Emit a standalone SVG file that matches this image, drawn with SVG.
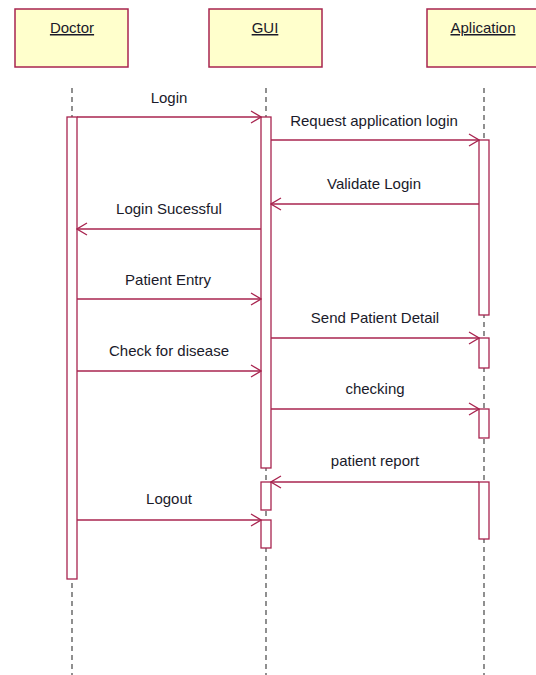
<svg xmlns="http://www.w3.org/2000/svg" width="536" height="675" viewBox="0 0 536 675">
  <style>
    .obj { fill: #ffffcc; stroke: #a8244f; stroke-width: 1.5; }
    .act { fill: #ffffff; stroke: #a8244f; stroke-width: 1.3; }
    .life { stroke: #555555; stroke-width: 1.3; stroke-dasharray: 5 4; fill: none; }
    .msg { stroke: #a8244f; stroke-width: 1.5; fill: none; marker-end: url(#open); }
    .name { font-family: "Liberation Sans", Arial, sans-serif; font-size: 15px; fill: #1a1a2a; text-anchor: middle; text-decoration: underline; }
    .lbl { font-family: "Liberation Sans", Arial, sans-serif; font-size: 15px; fill: #1a1a2a; text-anchor: middle; }
  </style>
  <defs>
    <marker id="open" viewBox="0 0 12 14" refX="11" refY="7" markerWidth="12" markerHeight="14" markerUnits="userSpaceOnUse" orient="auto">
      <path d="M1,1 L11,7 L1,13" fill="none" stroke="#a8244f" stroke-width="1.3"/>
    </marker>
  </defs>
  <rect width="536" height="675" fill="#ffffff"/>

  <!-- lifelines -->
  <g id="lifelines">
    <line class="life" x1="72" y1="88" x2="72" y2="675"/>
    <line class="life" x1="266" y1="88" x2="266" y2="675"/>
    <line class="life" x1="484" y1="88" x2="484" y2="675"/>
  </g>

  <!-- participants -->
  <g id="doctor">
    <rect class="obj" x="15" y="9" width="113" height="58"/>
    <text class="name" x="72" y="33">Doctor</text>
    <rect class="act" x="67" y="117" width="10" height="462"/>
  </g>
  <g id="gui">
    <rect class="obj" x="209" y="9" width="113" height="58"/>
    <text class="name" x="265" y="33">GUI</text>
    <rect class="act" x="261" y="117" width="10" height="351"/>
    <rect class="act" x="261" y="482" width="10" height="28"/>
    <rect class="act" x="261" y="520" width="10" height="28"/>
  </g>
  <g id="application">
    <rect class="obj" x="427" y="9" width="113" height="58"/>
    <text class="name" x="483" y="33">Aplication</text>
    <rect class="act" x="479" y="140" width="10" height="175"/>
    <rect class="act" x="479" y="338" width="10" height="30"/>
    <rect class="act" x="479" y="409" width="10" height="29"/>
    <rect class="act" x="479" y="482" width="10" height="57"/>
  </g>

  <!-- messages -->
  <g id="connectors">
    <line class="msg" x1="77" y1="117" x2="261" y2="117"/>
    <line class="msg" x1="271" y1="140" x2="479" y2="140"/>
    <line class="msg" x1="479" y1="204" x2="271" y2="204"/>
    <line class="msg" x1="261" y1="229" x2="77" y2="229"/>
    <line class="msg" x1="77" y1="299" x2="261" y2="299"/>
    <line class="msg" x1="271" y1="338" x2="479" y2="338"/>
    <line class="msg" x1="77" y1="371" x2="261" y2="371"/>
    <line class="msg" x1="271" y1="409" x2="479" y2="409"/>
    <line class="msg" x1="479" y1="482" x2="271" y2="482"/>
    <line class="msg" x1="77" y1="520" x2="261" y2="520"/>
  </g>

  <g id="labels">
    <text class="lbl" x="169" y="103">Login</text>
    <text class="lbl" x="374" y="126">Request application login</text>
    <text class="lbl" x="374" y="189">Validate Login</text>
    <text class="lbl" x="169" y="214">Login Sucessful</text>
    <text class="lbl" x="168" y="285">Patient Entry</text>
    <text class="lbl" x="375" y="323">Send Patient Detail</text>
    <text class="lbl" x="169" y="356">Check for disease</text>
    <text class="lbl" x="375" y="394">checking</text>
    <text class="lbl" x="375" y="466">patient report</text>
    <text class="lbl" x="169" y="504">Logout</text>
  </g>
</svg>
